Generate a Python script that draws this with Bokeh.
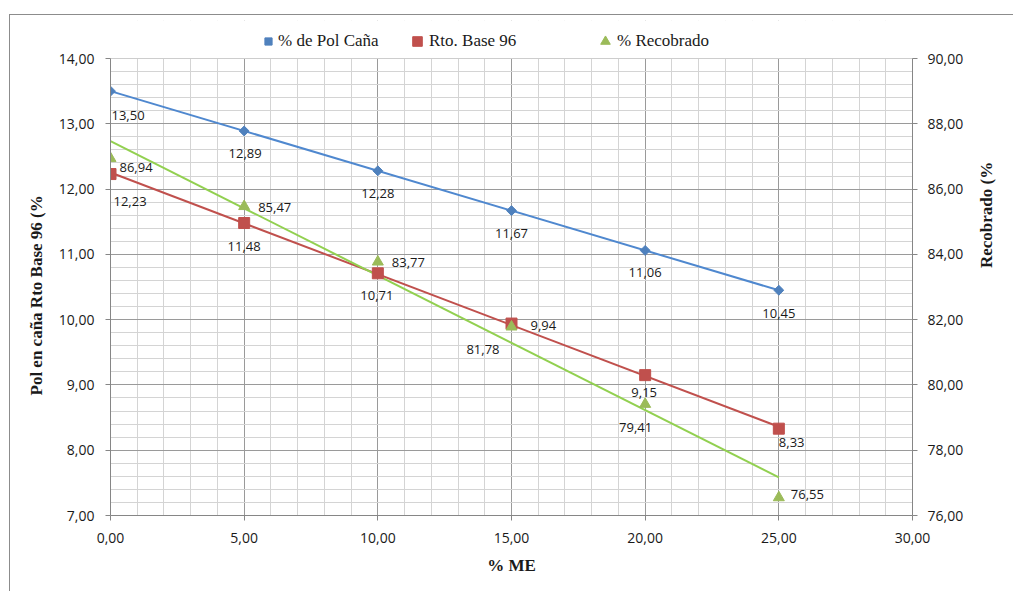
import numpy as np
from bokeh.plotting import figure
from bokeh.models import (Range1d, LinearAxis, SingleIntervalTicker, CustomJSTickFormatter,
                          ColumnDataSource, Legend, LegendItem, BoxAnnotation, Title)
from bokeh.core.properties import value
from bokeh.embed import file_html
from bokeh.resources import INLINE

# Data: % ME against pol in cane, Rto. base 96 and % recovered
me = [0, 5, 10, 15, 20, 25]
pol_cana = [13.50, 12.89, 12.28, 11.67, 11.06, 10.45]
rto_base96 = [12.23, 11.48, 10.71, 9.94, 9.15, 8.33]
recobrado = [86.94, 85.47, 83.77, 81.78, 79.41, 76.55]

series_names = ["% de Pol Caña", "Rto. Base 96", "% Recobrado"]
x_title = "% ME"
y_title = "Pol en caña Rto Base 96 (%"
y2_title = "Recobrado (%"

Y_MIN, Y_MAX = 7, 14
Y2_MIN, Y2_MAX = 76, 90
X_MIN, X_MAX = 0, 30

# Colours
BLUE, BLUE_LINE = "#4F81BD", "#4F88CF"
RED, RED_LINE = "#C0504D", "#C0504D"
GREEN, GREEN_LINE = "#9BBB59", "#92D050"
AXIS_GREY = "#868686"
TEXT = "#1a1a1a"

TICK_FONT = "Open Sans"
SERIF = "Liberation Serif"

# The frame is extended upward by a legend strip; the axes stop at their maxima
PLOT_H = 457          # pixel height of the 7..14 span
STRIP = 38            # legend strip above it
y_top = Y_MAX + STRIP * (Y_MAX - Y_MIN) / PLOT_H
y2_top = Y2_MAX + STRIP * (Y2_MAX - Y2_MIN) / PLOT_H

p = figure(width=1004, height=577,
           x_range=Range1d(X_MIN, X_MAX), y_range=Range1d(Y_MIN, y_top),
           output_backend="svg", toolbar_location=None,
           min_border_left=100, min_border_right=102,
           min_border_top=43 - STRIP, min_border_bottom=77)
p.styles = {"margin-left": "9px", "margin-top": "14px",
            "border-left": "1px solid #8c8c8c", "border-top": "1px solid #8c8c8c"}
p.outline_line_color = None
p.background_fill_color = "white"
p.border_fill_color = "white"

p.extra_y_ranges = {"rec": Range1d(Y2_MIN, y2_top)}

fmt = CustomJSTickFormatter(code="return tick.toFixed(2).replace('.', ',');")

p.xaxis.ticker = SingleIntervalTicker(interval=5, num_minor_ticks=5)
p.yaxis.ticker = SingleIntervalTicker(interval=1, num_minor_ticks=5)
p.yaxis.bounds = (Y_MIN, Y_MAX)

ax2 = LinearAxis(y_range_name="rec", ticker=SingleIntervalTicker(interval=2),
                 bounds=(Y2_MIN, Y2_MAX))
p.add_layout(ax2, "right")

for ax in [p.xaxis[0], p.yaxis[0], ax2]:
    ax.formatter = fmt
    ax.axis_line_color = AXIS_GREY
    ax.major_tick_line_color = AXIS_GREY
    ax.major_tick_in = 0
    ax.major_tick_out = 5
    ax.minor_tick_line_color = None
    ax.major_label_text_font = TICK_FONT
    ax.major_label_text_font_size = "14px"
    ax.major_label_text_color = TEXT
    ax.axis_label_text_font = SERIF
    ax.axis_label_text_font_style = "bold"
    ax.axis_label_text_font_size = "17px"
    ax.axis_label_text_color = TEXT

p.xaxis.axis_label = x_title
p.xaxis.major_label_standoff = 12
p.xaxis.axis_label_standoff = 10
p.yaxis.major_label_standoff = 11
ax2.axis_label = y2_title
ax2.axis_label_orientation = np.pi / 2   # read bottom-to-top
ax2.axis_label_text_align = "center"
ax2.major_label_standoff = 10
ax2.axis_label_standoff = 20

# Left title, starting near the bottom of the 7..14 span
p.add_layout(Title(text=y_title, align="left", offset=120, standoff=19,
                   text_font=SERIF, text_font_style="bold", text_font_size="17px",
                   text_color=TEXT), "left")

p.xgrid.grid_line_color = "#9a9a9a"
p.ygrid.grid_line_color = "#9a9a9a"
p.xgrid.minor_grid_line_color = "#d4d4d4"
p.ygrid.minor_grid_line_color = "#d4d4d4"
p.ygrid.bounds = (Y_MIN, Y_MAX)

# Blank strip above the plot area that carries the legend
p.add_layout(BoxAnnotation(bottom=Y_MAX, fill_color="white", fill_alpha=1,
                           line_color=None, level="underlay"))

# Linear trend lines fitted to each series
def trend(xs, ys):
    k, b = np.polyfit(xs, ys, 1)
    xe = np.array([min(xs), max(xs)], dtype=float)
    return xe, k * xe + b

tx, ty = trend(me, pol_cana)
p.line(tx, ty, line_color=BLUE_LINE, line_width=2)
tx, ty = trend(me, rto_base96)
p.line(tx, ty, line_color=RED_LINE, line_width=2)
tx, ty = trend(me, recobrado)
p.line(tx, ty, line_color=GREEN_LINE, line_width=2, y_range_name="rec")

r_pol = p.scatter(me, pol_cana, marker="square", angle=np.pi / 4, size=7,
                  fill_color=BLUE, line_color=BLUE)
r_rto = p.scatter(me, rto_base96, marker="square", size=11,
                  fill_color=RED, line_color=RED)
r_rec = p.scatter(me, recobrado, marker="triangle", size=11,
                  fill_color=GREEN, line_color=GREEN, y_range_name="rec")

# Data labels
def fmt_val(v):
    return f"{v:.2f}".replace(".", ",")

label_style = [
    (pol_cana, None,
     [1, 1, 0, 0, 0, 0], [24, 23, 23, 23, 22, 23],
     ["left", "center", "center", "center", "center", "center"]),
    (rto_base96, None,
     [3, 0, -1, 19, -1, 0], [27, 23, 22, 2, 17, 14],
     ["left", "center", "center", "left", "center", "left"]),
    (recobrado, "rec",
     [9, 14, 14, -12, 7, 12], [9, 1, 1, 23, 23, -3],
     ["left", "left", "left", "right", "right", "left"]),
]
for vals, rng, dx, dy, al in label_style:
    src = ColumnDataSource(dict(x=me, y=vals, t=[fmt_val(v) for v in vals],
                                dx=dx, dy=dy, al=al))
    kw = {"y_range_name": rng} if rng else {}
    p.text("x", "y", text="t", source=src, x_offset="dx", y_offset="dy",
           text_align="al", text_baseline="middle",
           text_font=value(TICK_FONT), text_font_size="13px",
           text_color=TEXT, **kw)

# Legend entries across the top strip: (x, y, glyph box, label gap)
legend_pos = [(149, 464, 18, 1), (295, 462, 24, 0), (483, 462, 24, 0)]
for name, rend, (vx, vy, gb, gap) in zip(series_names, [r_pol, r_rto, r_rec], legend_pos):
    lg = Legend(items=[LegendItem(label=name, renderers=[rend])],
                location=(vx, vy), orientation="horizontal",
                padding=0, margin=0, border_line_color=None,
                background_fill_alpha=0, glyph_width=gb, glyph_height=gb,
                label_standoff=gap, label_height=20,
                label_text_font=SERIF, label_text_font_size="17px",
                label_text_color=TEXT)
    p.add_layout(lg, "center")

open("out.html", "w").write(file_html(p, INLINE))
